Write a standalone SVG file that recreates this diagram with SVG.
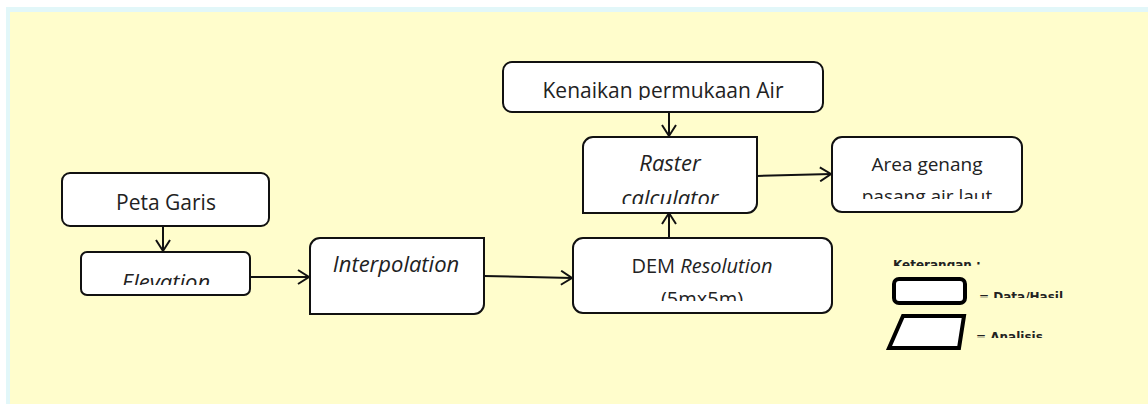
<svg xmlns="http://www.w3.org/2000/svg" width="1148" height="404" viewBox="0 0 1148 404">
<style>
.box{fill:#fff;stroke:#111;stroke-width:2}
.leg{fill:#fff;stroke:#000;stroke-width:4}
.t{font-family:"Open Sans","Liberation Sans",sans-serif;font-size:21px;fill:#222;text-anchor:middle}
.i{font-style:italic;font-size:22px}
.s{font-size:19px}
.d{font-size:20px}
.si{font-style:italic;font-size:20px}
.lt{font-family:"DejaVu Sans","Liberation Sans",sans-serif;font-size:12px;fill:#222;font-weight:bold}
.c{fill:none;stroke:#111;stroke-width:2}
</style>
<defs>
<marker id="ah" markerWidth="14" markerHeight="16" refX="12" refY="8" orient="auto" markerUnits="userSpaceOnUse">
<path d="M1,1 L12,8 L1,15" fill="none" stroke="#111" stroke-width="2"/>
</marker>
<clipPath id="cElev"><rect x="0" y="0" width="1148" height="285"/></clipPath>
<clipPath id="cKen"><rect x="0" y="0" width="1148" height="100"/></clipPath>
<clipPath id="cRas"><rect x="0" y="0" width="1148" height="204"/></clipPath>
<clipPath id="cArea"><rect x="0" y="0" width="1148" height="199"/></clipPath>
<clipPath id="cDem"><rect x="0" y="0" width="1148" height="301"/></clipPath>
<clipPath id="cK1"><rect x="0" y="0" width="1148" height="266"/></clipPath>
<clipPath id="cK2"><rect x="0" y="0" width="1148" height="298"/></clipPath>
<clipPath id="cK3"><rect x="0" y="0" width="1148" height="338"/></clipPath>
</defs>
<rect x="0" y="0" width="1148" height="404" fill="#fff"/>
<rect x="6" y="7" width="1142" height="397" fill="#E2F7F9"/>
<rect x="10" y="12" width="1138" height="392" fill="#FFFDCC"/>

<g id="connectors">
<line class="c" x1="163" y1="227" x2="163" y2="251" marker-end="url(#ah)"/>
<line class="c" x1="250" y1="277" x2="309" y2="277" marker-end="url(#ah)"/>
<line class="c" x1="484" y1="276" x2="572" y2="278" marker-end="url(#ah)"/>
<line class="c" x1="669" y1="238" x2="669" y2="213" marker-end="url(#ah)"/>
<line class="c" x1="669" y1="112" x2="669" y2="136" marker-end="url(#ah)"/>
<line class="c" x1="757" y1="176" x2="831" y2="174" marker-end="url(#ah)"/>
</g>

<g id="peta-garis">
<rect class="box" x="62" y="173" width="207" height="53" rx="8"/>
<text class="t" x="166" y="210">Peta Garis</text>
</g>

<g id="elevation">
<rect class="box" x="81" y="252" width="169" height="43" rx="6"/>
<text class="t i" x="166" y="290" clip-path="url(#cElev)">Elevation</text>
</g>

<g id="interpolation">
<path class="box" d="M320,238 H484 V304 A10,10 0 0 1 474,314 H310 V248 A10,10 0 0 1 320,238 Z"/>
<text class="t i" x="396" y="272">Interpolation</text>
</g>

<g id="dem">
<rect class="box" x="573" y="238" width="259" height="75" rx="10"/>
<text class="t d" x="702" y="273">DEM <tspan class="si">Resolution</tspan></text>
<text class="t d" x="702" y="306" clip-path="url(#cDem)">(5mx5m)</text>
</g>

<g id="kenaikan">
<rect class="box" x="503" y="62" width="320" height="50" rx="9"/>
<text class="t" x="663" y="98" clip-path="url(#cKen)">Kenaikan permukaan Air</text>
</g>

<g id="raster">
<path class="box" d="M593,137 H757 V203 A10,10 0 0 1 747,213 H583 V147 A10,10 0 0 1 593,137 Z"/>
<text class="t i" x="670" y="171">Raster</text>
<text class="t i" x="670" y="206" clip-path="url(#cRas)">calculator</text>
</g>

<g id="area">
<rect class="box" x="832" y="137" width="190" height="75" rx="10"/>
<text class="t s" x="927" y="171">Area genang</text>
<text class="t s" x="927" y="203" clip-path="url(#cArea)">pasang air laut</text>
</g>

<g id="legend">
<text class="lt" x="893" y="269" clip-path="url(#cK1)">Keterangan :</text>
<rect class="leg" x="894" y="279" width="71" height="24" rx="5"/>
<text class="lt" x="979" y="301" clip-path="url(#cK2)">= Data/Hasil</text>
<path class="leg" d="M903,316 H964 L959,348 H889 Z"/>
<text class="lt" x="976" y="341" clip-path="url(#cK3)">= Analisis</text>
</g>
</svg>
